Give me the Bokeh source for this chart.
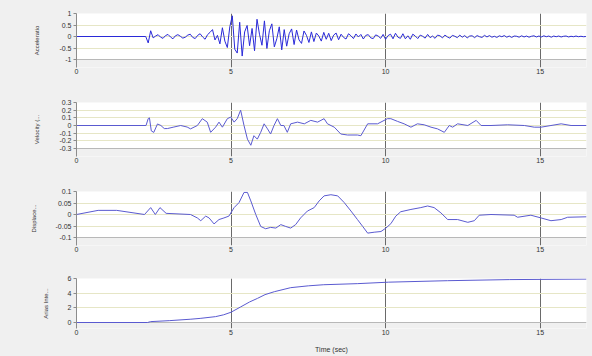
from bokeh.plotting import figure
from bokeh.layouts import column
from bokeh.models import Range1d, FixedTicker, BoxAnnotation, Grid
from bokeh.embed import file_html
from bokeh.resources import INLINE

# ---------------- data ----------------
x_ticks = [0, 5, 10, 15]
x_max = 16.5

# acceleration: samples every 0.08 s starting at 2.24 s (zero before)
acc_start = 2.24
acc_step = 0.08
acc_vals = [
    0.00, -0.28, 0.25, -0.06, 0.02, 0.08, -0.03, -0.08, 0.04, 0.09,
    -0.02, -0.10, 0.03, 0.08, 0.01, -0.07, -0.03, 0.06, 0.10, -0.04,
    -0.09, 0.05, 0.12, -0.02, -0.12, 0.08, 0.18, 0.30, -0.15, 0.05,
    -0.32, 0.38, -0.20, -0.48, 0.42, 0.90, -0.55, -0.72, 0.62, -0.85,
    0.20, 0.48, -0.40, 0.35, -0.62, 0.75, 0.10, -0.38, 0.68, -0.52,
    0.25, 0.55, -0.45, -0.10, 0.42, -0.58, 0.30, -0.42, 0.12, 0.33,
    -0.35, 0.28, -0.15, -0.30, 0.24, 0.05, -0.26, 0.20, -0.22, 0.15,
    0.02, -0.20, 0.18, -0.12, 0.14, -0.18, 0.06, 0.15, -0.14, 0.10,
    -0.04, -0.11, 0.12, 0.03, -0.09, 0.11, -0.02, 0.09, -0.11, 0.05,
    0.08, -0.06, -0.09, 0.07, 0.02, -0.08, 0.09, -0.12, 0.04, 0.10,
    -0.10, 0.14, -0.03, -0.08, 0.12, -0.10, 0.03, -0.12, 0.10, 0.02,
    -0.09, 0.06, 0.01, -0.07, 0.09, -0.05, 0.02, -0.08, 0.06, 0.03,
    -0.06, 0.06, -0.02, -0.07, 0.05, 0.01, -0.05, 0.06, -0.03, 0.04,
    -0.06, 0.02, 0.03, -0.05, 0.04, -0.01, -0.04, 0.05, -0.02, 0.04,
    -0.03, 0.01, -0.04, 0.03, -0.01, 0.04, -0.03, 0.02, -0.04, 0.02,
    0.01, -0.03, 0.03, -0.02, 0.02, -0.03, 0.01, 0.03, -0.02, 0.02,
    -0.02, 0.03, -0.01, 0.02, -0.03, 0.02, -0.01, 0.02, -0.02, 0.01,
    0.02, -0.02, 0.01, -0.01, 0.02, -0.01, 0.01, -0.01, 0.00,
]
acc_t = [0.0] + [acc_start + acc_step * i for i in range(len(acc_vals))]
acc_v = [0.0] + acc_vals

vel_t = [0.0, 2.25, 2.32, 2.36, 2.42, 2.50, 2.62, 2.73, 2.84, 2.94, 3.15, 3.37,
         3.58, 3.69, 3.91, 4.07, 4.23, 4.34, 4.50, 4.61, 4.72, 4.88, 4.99,
         5.10, 5.20, 5.31, 5.42, 5.53, 5.64, 5.74, 5.85, 5.96, 6.07, 6.18,
         6.28, 6.39, 6.50, 6.61, 6.71, 6.82, 6.93, 7.15, 7.37, 7.58, 7.80,
         8.01, 8.12, 8.34, 8.55, 8.77, 9.09, 9.20, 9.42, 9.74, 10.06, 10.17,
         10.39, 10.60, 10.82, 11.03, 11.25, 11.47, 11.68, 11.90, 12.06,
         12.17, 12.33, 12.66, 12.93, 13.09, 13.41, 13.95, 14.49, 14.81,
         15.03, 15.35, 15.68, 16.00, 16.50]
vel_v = [0.0, 0.0, 0.09, 0.10, -0.07, -0.09, 0.02, 0.0, -0.04, -0.04, -0.02, 0.0,
         -0.02, -0.044, 0.0, 0.089, 0.044, -0.089, -0.022, 0.044, -0.022,
         0.089, 0.11, 0.044, 0.089, 0.20, 0.0, -0.178, -0.258, -0.133,
         -0.178, -0.089, 0.022, -0.044, -0.111, 0.0, 0.089, 0.0, 0.0,
         -0.089, 0.022, 0.044, 0.022, 0.067, 0.044, 0.089, 0.022, -0.022,
         -0.111, -0.124, -0.124, -0.133, 0.022, 0.022, 0.089, 0.089, 0.053,
         0.022, -0.022, 0.022, 0.009, -0.022, -0.044, -0.089, 0.0, -0.022,
         0.022, 0.0, 0.067, 0.0, 0.0, 0.009, 0.0, -0.022, -0.022, 0.0,
         0.022, 0.0, 0.0]

disp_t = [0.0, 0.7, 1.3, 2.2, 2.4, 2.55, 2.7, 2.9, 3.69, 3.91, 4.02, 4.18,
          4.29, 4.45, 4.61, 4.77, 4.93, 5.10, 5.26, 5.42, 5.53, 5.64, 5.80,
          5.96, 6.12, 6.28, 6.45, 6.61, 6.77, 6.93, 7.09, 7.25, 7.47, 7.69,
          7.85, 8.01, 8.23, 8.45, 8.66, 8.88, 9.09, 9.26, 9.42, 9.63, 9.85,
          10.01, 10.17, 10.33, 10.49, 10.82, 11.14, 11.36, 11.57, 11.79,
          12.01, 12.33, 12.66, 12.87, 13.03, 13.41, 14.16, 14.27, 14.70,
          15.03, 15.35, 15.68, 15.89, 16.50]
disp_v = [0.0, 0.018, 0.018, 0.0, 0.03, 0.0, 0.03, 0.005, 0.0, -0.015, -0.027,
          -0.007, -0.015, -0.041, -0.022, -0.015, -0.007, 0.03, 0.052, 0.096,
          0.096, 0.059, 0.0, -0.052, -0.062, -0.056, -0.059, -0.044, -0.052,
          -0.059, -0.044, -0.015, 0.015, 0.03, 0.059, 0.081, 0.086, 0.081,
          0.052, 0.015, -0.022, -0.052, -0.081, -0.077, -0.074, -0.059,
          -0.04, -0.007, 0.012, 0.022, 0.03, 0.037, 0.03, 0.007, -0.022,
          -0.022, -0.034, -0.027, -0.003, 0.0, -0.003, -0.012, -0.003,
          -0.015, -0.027, -0.022, -0.012, -0.01]

arias_t = [0.0, 2.3, 2.4, 3.0, 3.7, 4.0, 4.5, 4.76, 5.0, 5.3, 5.6, 5.86, 6.1,
           6.4, 6.93, 7.5, 8.0, 9.1, 10.1, 12.0, 14.0, 16.5]
arias_v = [0.0, 0.0, 0.12, 0.25, 0.45, 0.56, 0.80, 1.05, 1.4, 2.1, 2.8, 3.3,
           3.8, 4.2, 4.75, 5.0, 5.15, 5.3, 5.5, 5.7, 5.85, 5.92]

acc_ticks = [-1, -0.5, 0, 0.5, 1]
acc_labels = ["-1", "-0.5", "0", "0.5", "1"]
vel_ticks = [-0.3, -0.2, -0.1, 0, 0.1, 0.2, 0.3]
vel_labels = ["-0.3", "-0.2", "-0.1", "0", "0.1", "0.2", "0.3"]
disp_ticks = [-0.1, -0.05, 0, 0.05, 0.1]
disp_labels = ["-0.1", "-0.05", "0", "0.05", "0.1"]
arias_ticks = [0, 2, 4, 6]
arias_labels = ["0", "2", "4", "6"]

FONT = "Liberation Sans"
GRAY_BG = "#f0f0f0"


def panel(t, v, ticks, labels, ylabel, top, white_px, pad_px, bottom,
          height, color, xlabel=None):
    ymin, ymax = ticks[0], ticks[-1]
    pad = (ymax - ymin) * pad_px / white_px
    p = figure(width=592, height=height, title=None,
               x_range=Range1d(0, x_max), y_range=Range1d(ymin - pad, ymax),
               output_backend="svg", toolbar_location=None,
               min_border_left=76, min_border_right=6,
               min_border_top=top, min_border_bottom=bottom,
               border_fill_color=GRAY_BG, background_fill_color="white",
               outline_line_color=None)
    p.add_layout(BoxAnnotation(top=ymin, fill_color=GRAY_BG, fill_alpha=1.0,
                               line_color=None, level="image"))
    # grids
    p.xgrid.ticker = FixedTicker(ticks=[x for x in x_ticks if x > 0])
    p.xgrid.grid_line_color = "#6a6a6a"
    p.xgrid.grid_line_width = 1
    p.ygrid.ticker = FixedTicker(ticks=ticks[1:-1])
    p.ygrid.grid_line_color = "#e6e6c6"
    p.add_layout(Grid(dimension=1, ticker=FixedTicker(ticks=[ymin, ymax]),
                      grid_line_color="#b8b8b8"), "center")
    p.line(t, v, line_color=color, line_width=1)

    xa = p.xaxis[0]
    xa.ticker = FixedTicker(ticks=x_ticks)
    xa.axis_line_color = None
    xa.major_tick_line_color = None
    xa.major_tick_out = 0
    xa.major_tick_in = 0
    xa.minor_tick_line_color = None
    xa.minor_tick_out = 0
    xa.major_label_standoff = 1
    xa.major_label_text_font = FONT
    xa.major_label_text_font_size = "7px"
    xa.major_label_text_color = "#333333"
    if xlabel:
        xa.axis_label = xlabel
        xa.axis_label_text_font = FONT
        xa.axis_label_text_font_size = "7px"
        xa.axis_label_text_font_style = "normal"
        xa.axis_label_text_color = "#333333"
        xa.axis_label_standoff = 8

    ya = p.yaxis[0]
    ya.ticker = FixedTicker(ticks=ticks)
    ya.major_label_overrides = {tk: lb for tk, lb in zip(ticks, labels)}
    ya.axis_line_color = "#8c8c8c"
    ya.major_tick_line_color = "#8c8c8c"
    ya.major_tick_out = 3
    ya.major_tick_in = 0
    ya.minor_tick_line_color = None
    ya.major_label_standoff = 2
    ya.major_label_text_font = FONT
    ya.major_label_text_font_size = "7px"
    ya.major_label_text_color = "#333333"
    ya.axis_label = ylabel
    ya.axis_label_text_font = FONT
    ya.axis_label_text_font_size = "6px"
    ya.axis_label_text_font_style = "normal"
    ya.axis_label_text_color = "#333333"
    ya.axis_label_standoff = 16
    return p


p1 = panel(acc_t, acc_v, acc_ticks, acc_labels, "Acceleratio", 13, 46, 8, 22, 89, "#2a2ad8")
p2 = panel(vel_t, vel_v, vel_ticks, vel_labels, "Velocity (...", 13, 46, 8, 22, 89, "#5a5ad0")
p3 = panel(disp_t, disp_v, disp_ticks, disp_labels, "Displace...", 13, 46, 8, 22, 89, "#5a5ad0")
p4 = panel(arias_t, arias_v, arias_ticks, arias_labels, "Arias Inte...", 11, 44, 6, 28, 89, "#5a5ad0",
           xlabel="Time (sec)")

layout = column(p1, p2, p3, p4, spacing=0, background=GRAY_BG)
open("out.html", "w").write(file_html(layout, INLINE))
